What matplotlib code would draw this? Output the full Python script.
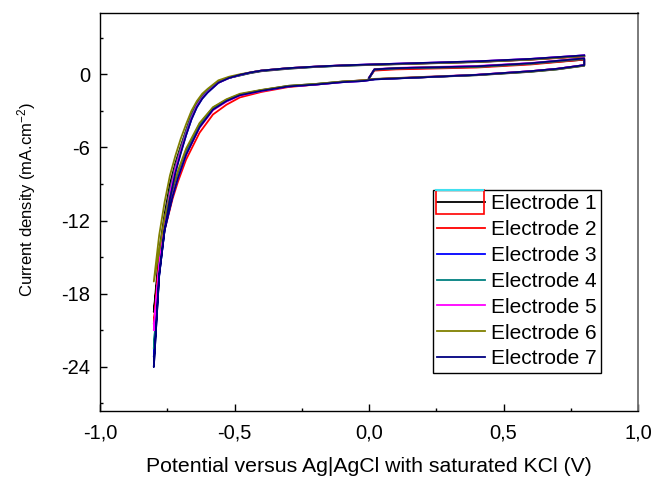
import matplotlib
matplotlib.use("Agg")
import matplotlib.pyplot as plt
from matplotlib.lines import Line2D
from matplotlib.patches import Rectangle
from matplotlib.ticker import FixedLocator, FixedFormatter, MultipleLocator

plt.rcParams['font.family'] = ['Liberation Sans', 'DejaVu Sans']
plt.rcParams['mathtext.default'] = 'regular'

# potential path of one scan: start at 0 V -> 0.8 V, back to -0.8 V, up to 0.8 V
pot_start = [0.0, 0.02, 0.1, 0.2, 0.4, 0.6, 0.8]
pot_lower = [0.8, 0.7, 0.6, 0.4, 0.2, 0.02, -0.02, -0.1, -0.2, -0.3, -0.4,
             -0.48, -0.53, -0.58, -0.63, -0.68, -0.71, -0.73, -0.76, -0.78, -0.8]
pot_upper = [-0.78, -0.76, -0.74, -0.72, -0.70, -0.68, -0.66, -0.64, -0.62, -0.60,
             -0.56, -0.52, -0.48, -0.44, -0.4, -0.3, -0.2, -0.1, 0.0, 0.2, 0.4, 0.6, 0.8]
potential = pot_start + pot_lower + pot_upper

# current density (mA/cm2), same order as potential
e1 = [-0.35, 0.35, 0.45, 0.5, 0.6, 0.85, 1.2,
      0.7, 0.4, 0.2, -0.08, -0.25, -0.4, -0.5, -0.6, -0.8, -0.95, -1.3,
      -1.65, -2.1, -2.75, -4.1, -6.3, -8.2, -9.6, -12.3, -15.5, -19.5,
      -14.5, -11.5, -9.0, -7.3, -5.9, -4.6, -3.3, -2.4, -1.8, -1.3,
      -0.6, -0.3, -0.1, 0.1, 0.25, 0.45, 0.6, 0.7, 0.76, 0.88, 1.0, 1.2, 1.5]
e2 = [-0.3, 0.3, 0.4, 0.45, 0.55, 0.8, 1.2,
      0.75, 0.45, 0.25, -0.05, -0.25, -0.4, -0.5, -0.62, -0.85, -1.05, -1.45,
      -1.9, -2.5, -3.3, -4.8, -7.0, -8.8, -10.2, -12.8, -16.0, -20.5,
      -15.0, -12.0, -9.5, -7.6, -6.1, -4.7, -3.4, -2.5, -1.8, -1.3,
      -0.6, -0.25, -0.05, 0.15, 0.3, 0.5, 0.62, 0.72, 0.78, 0.9, 1.02, 1.2, 1.45]
e3 = [-0.3, 0.4, 0.5, 0.55, 0.65, 0.9, 1.3,
      0.75, 0.45, 0.25, -0.05, -0.25, -0.42, -0.55, -0.65, -0.85, -1.0, -1.35,
      -1.7, -2.2, -2.9, -4.3, -6.6, -8.5, -10.0, -12.8, -16.5, -23.2,
      -16.0, -12.5, -10.0, -8.0, -6.4, -5.0, -3.7, -2.7, -2.0, -1.5,
      -0.7, -0.3, -0.05, 0.15, 0.3, 0.5, 0.62, 0.72, 0.8, 0.92, 1.05, 1.25, 1.55]
e4 = [-0.32, 0.38, 0.47, 0.52, 0.6, 0.86, 1.25,
      0.72, 0.42, 0.22, -0.06, -0.24, -0.4, -0.52, -0.62, -0.82, -0.98, -1.32,
      -1.68, -2.15, -2.8, -4.2, -6.4, -8.3, -9.8, -12.5, -16.0, -22.5,
      -15.5, -12.0, -9.5, -7.6, -6.1, -4.7, -3.4, -2.5, -1.85, -1.35,
      -0.65, -0.3, -0.08, 0.12, 0.28, 0.48, 0.6, 0.7, 0.77, 0.9, 1.02, 1.22, 1.5]
e5 = [-0.28, 0.42, 0.52, 0.58, 0.68, 0.92, 1.3,
      0.75, 0.45, 0.25, -0.04, -0.22, -0.4, -0.55, -0.65, -0.85, -1.0, -1.38,
      -1.75, -2.25, -2.95, -4.4, -6.6, -8.5, -9.9, -12.6, -15.8, -21.0,
      -15.8, -12.3, -9.8, -7.8, -6.3, -4.9, -3.6, -2.6, -1.95, -1.45,
      -0.7, -0.3, -0.05, 0.15, 0.3, 0.5, 0.63, 0.73, 0.8, 0.93, 1.06, 1.26, 1.55]
e6 = [-0.3, 0.4, 0.5, 0.55, 0.62, 0.88, 1.28,
      0.72, 0.42, 0.22, -0.06, -0.22, -0.38, -0.5, -0.6, -0.8, -0.95, -1.28,
      -1.6, -2.05, -2.7, -4.0, -6.1, -7.9, -9.3, -11.8, -14.5, -17.0,
      -13.2, -10.5, -8.3, -6.7, -5.3, -4.1, -3.0, -2.2, -1.6, -1.2,
      -0.5, -0.2, 0.0, 0.15, 0.3, 0.5, 0.62, 0.72, 0.78, 0.9, 1.02, 1.22, 1.5]
e7 = [-0.3, 0.4, 0.5, 0.55, 0.65, 0.9, 1.3,
      0.75, 0.45, 0.25, -0.05, -0.25, -0.42, -0.55, -0.65, -0.85, -1.0, -1.36,
      -1.72, -2.2, -2.9, -4.35, -6.6, -8.5, -10.0, -12.8, -16.5, -24.0,
      -16.5, -12.8, -10.2, -8.1, -6.5, -5.0, -3.7, -2.7, -2.0, -1.5,
      -0.7, -0.3, -0.05, 0.15, 0.3, 0.5, 0.63, 0.73, 0.8, 0.93, 1.06, 1.26, 1.55]

currents = [e1, e2, e3, e4, e5, e6, e7]
labels = ['Electrode 1', 'Electrode 2', 'Electrode 3', 'Electrode 4',
          'Electrode 5', 'Electrode 6', 'Electrode 7']
colors = ['#000000', '#ff0000', '#0000ff', '#008080', '#ff00ff', '#808000', '#000080']

xticks = [-1.0, -0.5, 0.0, 0.5, 1.0]
xticklabels = ['-1,0', '-0,5', '0,0', '0,5', '1,0']
yticks = [-24, -18, -12, -6, 0]
yticklabels = ['-24', '-18', '-12', '-6', '0']

fig = plt.figure(figsize=(6.54, 4.79), dpi=100)
ax = fig.add_axes([100 / 654, 1 - 410.7 / 479, 538 / 654, 398 / 479])

for cur, lab, col in zip(currents, labels, colors):
    ax.plot(potential, cur, color=col, lw=1.3, label=lab)

ax.set_xlim(-1.0, 1.0)
ax.set_ylim(-27.6, 5.05)
ax.xaxis.set_major_locator(FixedLocator(xticks))
ax.xaxis.set_major_formatter(FixedFormatter(xticklabels))
ax.yaxis.set_major_locator(FixedLocator(yticks))
ax.yaxis.set_major_formatter(FixedFormatter(yticklabels))
ax.xaxis.set_minor_locator(MultipleLocator(0.25))
ax.yaxis.set_minor_locator(MultipleLocator(3))
ax.tick_params(which='both', direction='in', top=False, right=False, width=1.0)
ax.tick_params(which='major', length=5, labelsize=14.5)
ax.tick_params(axis='x', which='major', pad=9)
ax.tick_params(axis='y', which='major', pad=7)
ax.tick_params(which='minor', length=2.5)
for s in ['left', 'bottom', 'top']:
    ax.spines[s].set_linewidth(1.0)
ax.spines['right'].set_color('#707070')
ax.spines['right'].set_linewidth(1.3)

ax.set_xlabel('Potential versus Ag|AgCl with saturated KCl (V)', fontsize=15.3, labelpad=11)
ax.set_ylabel('Current density (mA.cm$^{-2}$)', fontsize=12)
ax.yaxis.set_label_coords(-0.116, 0.53)

leg = ax.legend(loc='upper left', bbox_to_anchor=(0.619, 0.5545), borderaxespad=0,
                fontsize=15, handlelength=2.3, handletextpad=0.3, labelspacing=0.33,
                borderpad=0.2, fancybox=False, framealpha=1, edgecolor='black')
leg.get_frame().set_linewidth(1.0)

# stray marks inside the legend of the original export
fig.add_artist(Line2D([436 / 654, 483 / 654], [1 - 190 / 479, 1 - 190 / 479],
                      color='#40e0f0', lw=1.5))
fig.add_artist(Rectangle((436 / 654, 1 - 214 / 479), 48 / 654, 24 / 479,
                         fill=False, edgecolor='red', lw=1.2))

fig.savefig('out.png', dpi=100)
